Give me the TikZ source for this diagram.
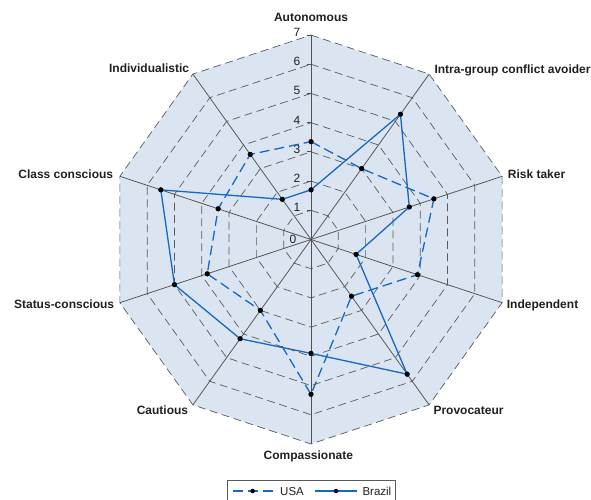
\documentclass[tikz,border=0pt]{standalone}
\usepackage{fontspec}
\setmainfont{Liberation Sans}
\definecolor{panelblue}{RGB}{219,229,241}
\definecolor{dataBlue}{RGB}{22,104,196}
\definecolor{gridgrey}{RGB}{90,90,90}
\definecolor{axisgrey}{RGB}{80,80,80}
\definecolor{labelgrey}{RGB}{35,31,32}
\begin{document}
\begin{tikzpicture}[x=1pt,y=1pt,
  gridline/.style={draw=gridgrey, line width=0.7pt, dash pattern=on 8pt off 4.5pt},
  axisline/.style={draw=axisgrey, line width=0.75pt},
  usaline/.style={draw=dataBlue, line width=1.3pt, dash pattern=on 10pt off 5pt},
  brline/.style={draw=dataBlue, line width=1.3pt},
  dot/.style={circle, fill=black, inner sep=0pt, minimum size=5pt},
  axlabel/.style={font=\bfseries\fontsize{12}{14}\selectfont, text=labelgrey, inner sep=0pt},
  numlabel/.style={font=\fontsize{12}{14}\selectfont, text=labelgrey, inner sep=0pt},
  legtext/.style={font=\fontsize{11.5}{14}\selectfont, text=labelgrey, inner sep=0pt, anchor=base west}]
\useasboundingbox (0,0) rectangle (591,500);

% ---- radar chart, scaled so that one unit is one scale step ----
\begin{scope}[shift={(311pt,260.5pt)}, x=28.71pt, y=29.21pt]
  \coordinate (O) at (0,0);
  % background panel
  \fill[panelblue] plot[samples at={90,54,...,-234}] ({7*cos(\x)},{7*sin(\x)}) -- cycle;
  % dashed rings 1..7
  \foreach \r in {1,...,7}
    \draw[gridline] plot[samples at={90,54,...,-234}] ({\r*cos(\x)},{\r*sin(\x)}) -- cycle;
  % spokes
  \foreach \a [count=\i from 0] in {90,54,...,-234} {
    \coordinate (v\i) at ({7*cos(\a)},{7*sin(\a)});
    \draw[axisline] (O) -- (v\i);
  }
  % scale ticks and numbers on the top spoke
  \foreach \r in {1,...,7} {
    \coordinate (tk\r) at (0,\r);
    \draw[axisline] ([xshift=-4.5pt]tk\r) -- (tk\r);
    \node[numlabel] (n\r) at (-0.49,{\r+0.09}) {\r};
  }
  \node[numlabel] (n0) at (-0.63,0) {0};

  % USA values
  \foreach \v [count=\i from 0] in {3.35,3.0,4.5,3.9,2.4,5.3,3.0,3.8,3.4,3.6}
    \node[dot] (u\i) at ({\v*cos(90-36*\i)},{\v*sin(90-36*\i)}) {};
  % Brazil values
  \foreach \v [count=\i from 0] in {1.7,5.3,3.6,1.65,5.7,3.9,4.2,5.0,5.5,1.7}
    \node[dot] (b\i) at ({\v*cos(90-36*\i)},{\v*sin(90-36*\i)}) {};

  \draw[usaline] (u0.center) -- (u1.center) -- (u2.center) -- (u3.center) -- (u4.center)
    -- (u5.center) -- (u6.center) -- (u7.center) -- (u8.center) -- (u9.center) -- cycle;
  \draw[brline] (b0.center) -- (b1.center) -- (b2.center) -- (b3.center) -- (b4.center)
    -- (b5.center) -- (b6.center) -- (b7.center) -- (b8.center) -- (b9.center) -- cycle;
  \foreach \i in {0,...,9} {
    \fill (u\i) circle (2.5pt);
    \fill (b\i) circle (2.5pt);
  }
\end{scope}

% ---- spoke labels ----
\node[axlabel, anchor=base]      (l0) at (311,478)   {Autonomous};
\node[axlabel, anchor=base west] (l1) at (434.3,426) {Intra-group conflict avoider};
\node[axlabel, anchor=base west] (l2) at (507.7,321.7) {Risk taker};
\node[axlabel, anchor=base west] (l3) at (506.7,191.7) {Independent};
\node[axlabel, anchor=base west] (l4) at (433.3,85)  {Provocateur};
\node[axlabel, anchor=base]      (l5) at (308.3,40)  {Compassionate};
\node[axlabel, anchor=base east] (l6) at (188.3,85)  {Cautious};
\node[axlabel, anchor=base east] (l7) at (114.3,191.7) {Status-conscious};
\node[axlabel, anchor=base east] (l8) at (113.3,321.7) {Class conscious};
\node[axlabel, anchor=base east] (l9) at (189.3,427.3) {Individualistic};

% ---- legend ----
\draw[draw=gridgrey, line width=0.6pt, fill=white] (227.3,19.3) rectangle (395,-5);
\coordinate (usaA) at (233,9);
\coordinate (usaB) at (274,9);
\coordinate (brA) at (315,9);
\coordinate (brB) at (356.7,9);
\draw[usaline, line width=1.1pt] (usaA) -- (usaB);
\node[dot, minimum size=4.5pt] (usaDot) at (252.7,9) {};
\node[legtext] (usaTxt) at (280,4.8) {USA};
\draw[brline, line width=1.1pt] (brA) -- (brB);
\node[dot, minimum size=4.5pt] (brDot) at (336,9) {};
\node[legtext] (brTxt) at (362.3,4.8) {Brazil};
\end{tikzpicture}
\end{document}
